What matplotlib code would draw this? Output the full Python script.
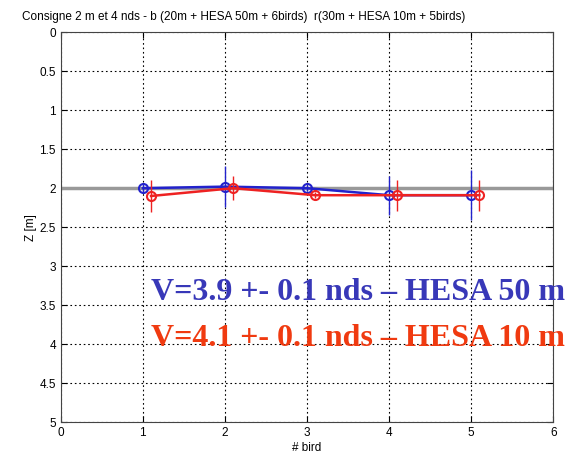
import matplotlib
matplotlib.use("Agg")
import matplotlib.pyplot as plt

plt.rcParams['font.family'] = ['Liberation Sans', 'DejaVu Sans']

blue_x = [1, 2, 3, 4, 5]
blue_z = [2.0, 1.98, 2.0, 2.09, 2.09]
blue_err = [0.05, 0.26, 0.04, 0.25, 0.32]
red_x = [1.1, 2.1, 3.1, 4.1, 5.1]
red_z = [2.1, 2.0, 2.09, 2.09, 2.09]
red_err = [0.2, 0.15, 0.04, 0.2, 0.2]
target_z = 2.0
title = "Consigne 2 m et 4 nds - b (20m + HESA 50m + 6birds)  r(30m + HESA 10m + 5birds)"
label_blue = "V=3.9 +- 0.1 nds \u2013 HESA 50 m"
label_red = "V=4.1 +- 0.1 nds \u2013 HESA 10 m"

fig = plt.figure(figsize=(5.68, 4.59), dpi=100)
ax = fig.add_axes([0.107, 0.0806, 0.867, 0.849])
ax.set_axisbelow(True)

ax.axhline(target_z, color='#999999', lw=2.5, zorder=2)
ax.errorbar(blue_x, blue_z, yerr=blue_err, color='#2222cc', marker='o', mfc='none',
            ms=6.5, mew=1.5, lw=1.8, elinewidth=1, capsize=0, zorder=3)
ax.errorbar(red_x, red_z, yerr=red_err, color='#ee2222', marker='o', mfc='none',
            ms=6.5, mew=1.5, lw=1.8, elinewidth=1, capsize=0, zorder=4)

ax.set_xlim(0, 6)
ax.set_ylim(5, 0)
ax.set_xticks(range(0, 7))
ax.set_yticks([0, 0.5, 1, 1.5, 2, 2.5, 3, 3.5, 4, 4.5, 5])
ax.set_yticklabels(['0', '0.5', '1', '1.5', '2', '2.5', '3', '3.5', '4', '4.5', '5'])
ax.grid(True, color='black', linestyle=(0, (1.5, 2.5)), lw=0.8)
for s in ax.spines.values():
    s.set_color('#444444')
ax.tick_params(direction='in', labelsize=8.5, length=4, top=True, right=True)
ax.set_xlabel('# bird', fontsize=8.5, labelpad=2)
ax.set_ylabel('Z [m]', fontsize=8.5, labelpad=2)

fig.text(22/568, 1 - 17/459, title, fontsize=8.5, va='center', ha='left')

fig.text(151/568, 1 - 293/459, label_blue, color='#3838b8', fontsize=23,
         fontweight='bold', family=['Liberation Serif'], va='center', ha='left',
         zorder=5)
fig.text(151/568, 1 - 338/459, label_red, color='#f03a10', fontsize=23,
         fontweight='bold', family=['Liberation Serif'], va='center', ha='left',
         zorder=5)

fig.savefig('out.png', dpi=100)
